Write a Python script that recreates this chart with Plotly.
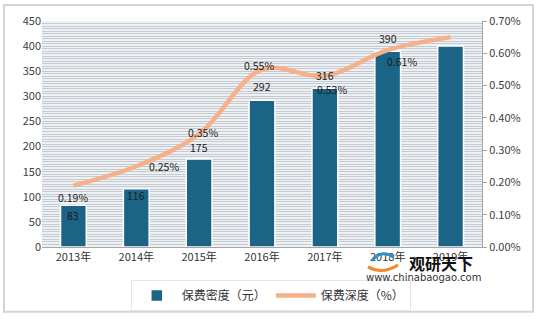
import plotly.graph_objects as go

years = ["2013年", "2014年", "2015年", "2016年", "2017年", "2018年", "2019年"]
density = [83, 116, 175, 292, 316, 390, 400]          # 保费密度（元）
depth = [0.19, 0.25, 0.35, 0.55, 0.53, 0.61, 0.65]    # 保费深度（%）
density_labels = ["83", "116", "175", "292", "316", "390", None]
depth_labels = ["0.19%", "0.25%", "0.35%", "0.55%", "0.53%", "0.61%", None]
left_ticks = list(range(0, 451, 50))
right_ticks = [0.0, 0.1, 0.2, 0.3, 0.4, 0.5, 0.6, 0.7]
right_tick_text = ["0.00%", "0.10%", "0.20%", "0.30%", "0.40%", "0.50%", "0.60%", "0.70%"]

# label offsets (pixels)
bar_lbl_shift = [-10, -7, 12, 14, 13, 13, 0]
line_lbl_xshift = [0, 28, 4, -3, 7, 14, 0]
line_lbl_yshift = [-12, 0, 2, 4, -14, -11, 0]

BAR = "#1b6486"
LINE = "#f6b08a"
FONT = "Noto Sans CJK SC"

fig = go.Figure()
fig.add_trace(go.Bar(
    x=years, y=density, name="保费密度（元）",
    marker=dict(color=BAR, line=dict(color="white", width=1.5)),
    width=0.41, yaxis="y"))
fig.add_trace(go.Scatter(
    x=years, y=depth, name="保费深度（%）", mode="lines",
    line=dict(color=LINE, width=4.5, shape="spline", smoothing=1.0),
    yaxis="y2"))

ann = []
for i, (yr, v, t) in enumerate(zip(years, density, density_labels)):
    if t:
        ann.append(dict(x=yr, y=v, xref="x", yref="y", text=t, showarrow=False,
                        yshift=bar_lbl_shift[i], font=dict(size=10.5, color="#1a1a1a", family=FONT)))
for i, (yr, v, t) in enumerate(zip(years, depth, depth_labels)):
    if t:
        ann.append(dict(x=yr, y=v, xref="x", yref="y2", text=t, showarrow=False,
                        xshift=line_lbl_xshift[i], yshift=line_lbl_yshift[i],
                        font=dict(size=10.5, color="#1a1a1a", family=FONT)))

W, H = 440, 227
def px(x):
    return (x - 42) / W
def py(y):
    return (248 - y) / H

# watermark
ann.append(dict(x=px(441), y=py(264), xref="paper", yref="paper",
                xanchor="center", yanchor="middle",
                text="<b>观研天下</b>", showarrow=False,
                font=dict(size=16, color="#111111", family=FONT)))
ann.append(dict(x=px(423), y=py(279), xref="paper", yref="paper",
                xanchor="center", yanchor="middle",
                text="www.chinabaogao.com", showarrow=False,
                font=dict(size=10, color="#333333", family="DejaVu Sans")))

shapes = [dict(type="rect", xref="paper", yref="paper",
               x0=px(4), x1=px(533), y0=py(313), y1=py(5),
               line=dict(color="#d4d4d4", width=2), layer="below"),
          dict(type="path", xref="paper", yref="paper",
               path=f"M {px(372)},{py(262)} Q {px(380)},{py(250)} {px(394)},{py(258)}",
               line=dict(color="#2d8fc8", width=3), layer="above"),
          dict(type="path", xref="paper", yref="paper",
               path=f"M {px(368)},{py(268)} Q {px(382)},{py(276)} {px(398)},{py(266)}",
               line=dict(color="#f08a2a", width=3), layer="above")]

fig.update_layout(
    width=540, height=322,
    margin=dict(l=42, r=58, t=21, b=74),
    paper_bgcolor="white", plot_bgcolor="#eef1f4",
    font=dict(family=FONT, size=11, color="#404040"),
    showlegend=True,
    legend=dict(orientation="h", x=0.52, xanchor="center", y=py(280), yanchor="top",
                bgcolor="white", bordercolor="#e6e6e6", borderwidth=1,
                font=dict(size=12, color="#333333", family=FONT),
                itemwidth=40, tracegroupgap=0),
    xaxis=dict(showline=True, linecolor="#a6a6a6", linewidth=1, ticks="",
               tickfont=dict(size=11, color="#333333"), showgrid=False),
    yaxis=dict(range=[0, 450], tickvals=left_ticks, showline=False, ticks="",
               showgrid=True, gridcolor="#c3c8ce", gridwidth=1, zeroline=False,
               minor=dict(dtick=5, showgrid=True, gridcolor="#c6cbd1", gridwidth=1),
               tickfont=dict(size=11, color="#404040")),
    yaxis2=dict(range=[0, 0.7], tickvals=right_ticks, ticktext=right_tick_text,
                overlaying="y", side="right",
                showline=True, linecolor="#a6a6a6",
                ticks="outside", ticklen=4, tickcolor="#a6a6a6", showgrid=False,
                zeroline=False, tickfont=dict(size=11, color="#404040")),
    annotations=ann,
    shapes=shapes,
)

fig.write_html("out.html")
